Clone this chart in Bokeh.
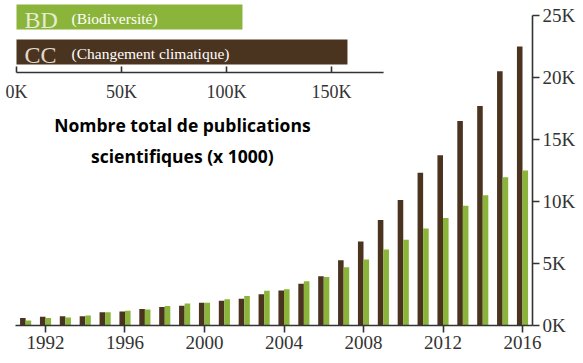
from bokeh.plotting import figure
from bokeh.models import Range1d, FixedTicker, ColumnDataSource
from bokeh.transform import dodge
from bokeh.core.properties import value
from bokeh.embed import file_html
from bokeh.resources import INLINE

# ---------------- data ----------------
years = list(range(1991, 2017))
cc_pubs = [600, 700, 750, 750, 1070, 1130, 1340, 1500, 1600, 1830, 2000, 2150, 2530, 2830,
           3360, 3980, 5270, 6770, 8500, 10130, 12310, 13740, 16500, 17700, 20500, 22500]
bd_pubs = [400, 600, 650, 800, 1070, 1180, 1290, 1580, 1770, 1830, 2120, 2370, 2800, 2930,
           3570, 3920, 4700, 5320, 6130, 6910, 7820, 8660, 9650, 10500, 11960, 12500]
year_ticks = [1992, 1996, 2000, 2004, 2008, 2012, 2016]
y_ticks = [0, 5000, 10000, 15000, 20000, 25000]
y_tick_labels = ["0K", "5K", "10K", "15K", "20K", "25K"]

totals_codes = ["BD", "CC"]
totals_names = ["(Biodiversité)", "(Changement climatique)"]
totals_values = [107600, 157600]
totals_rows = [1, 0]
total_ticks = [0, 50000, 100000, 150000]
total_tick_labels = ["0K", "50K", "100K", "150K"]

title_lines = ["Nombre total de publications", "scientifiques (x 1000)"]

# ---------------- style ----------------
GREEN = "#8bb43a"
BROWN = "#4a3420"
AXIS = "#333333"
SERIF = "Liberation Serif"

p = figure(width=583, height=363, output_backend="svg", toolbar_location=None,
           x_range=Range1d(1989.736, 2016.503), y_range=Range1d(0, 26210),
           y_axis_location="right", min_border_left=0, min_border_top=0,
           min_border_right=51, min_border_bottom=38)
p.outline_line_color = None
p.grid.visible = False
p.background_fill_color = "white"
p.border_fill_color = "white"

src = ColumnDataSource(dict(year=years, cc=cc_pubs, bd=bd_pubs))
p.vbar(x=dodge("year", -0.14, range=p.x_range), top="cc", width=0.28, source=src,
       fill_color=BROWN, line_color=None)
p.vbar(x=dodge("year", 0.14, range=p.x_range), top="bd", width=0.28, source=src,
       fill_color=GREEN, line_color=None)

# main axes
xa = p.xaxis[0]
xa.ticker = FixedTicker(ticks=year_ticks)
xa.bounds = (1990.49, 2016.5)
ya = p.yaxis[0]
ya.ticker = FixedTicker(ticks=y_ticks)
ya.major_label_overrides = {t: l for t, l in zip(y_ticks, y_tick_labels)}
ya.bounds = (0, 25000)
for ax in (xa, ya):
    ax.axis_line_color = AXIS
    ax.axis_line_width = 1.6
    ax.major_tick_line_color = AXIS
    ax.major_tick_line_width = 1.6
    ax.major_tick_in = 0
    ax.major_tick_out = 7
    ax.minor_tick_line_color = None
    ax.major_label_text_font = SERIF
    ax.major_label_text_font_size = "19px"
    ax.major_label_text_color = AXIS
xa.major_label_standoff = 3
ya.major_label_standoff = 3

# ---------------- inset: totals ----------------
p.extra_x_ranges = {"inset": Range1d(-7619, 245714)}
p.extra_y_ranges = {"inset": Range1d(-7.815, 1.471)}

isrc = ColumnDataSource(dict(row=totals_rows, val=totals_values, code=totals_codes,
                             name=totals_names, color=[GREEN, BROWN],
                             tcolor=["#e4ecd2", "#e0d8cc"]))
p.hbar(y="row", left=0, right="val", height=0.714, fill_color="color", line_color=None,
       source=isrc, x_range_name="inset", y_range_name="inset")
p.text(x=0, y="row", text="code", x_offset=8, y_offset=3, text_baseline="alphabetic",
       text_font=value(SERIF), text_font_size="24px", text_color="tcolor",
       source=isrc, x_range_name="inset", y_range_name="inset")
p.text(x=0, y="row", text="name", x_offset=55, y_offset=2, text_baseline="alphabetic",
       text_font=value(SERIF), text_font_size="15.5px", text_color="white",
       source=isrc, x_range_name="inset", y_range_name="inset")

axis_row = -0.586
p.segment(x0=[0], x1=[174800], y0=[axis_row], y1=[axis_row], line_color=AXIS,
          line_width=1.6, x_range_name="inset", y_range_name="inset")
p.segment(x0=total_ticks, x1=total_ticks, y0=[axis_row] * len(total_ticks),
          y1=[axis_row + 0.17] * len(total_ticks), line_color=AXIS, line_width=1.6,
          x_range_name="inset", y_range_name="inset")
p.text(x=total_ticks, y=[axis_row] * len(total_ticks), text=total_tick_labels,
       y_offset=10, text_align="center", text_baseline="top",
       text_font=value(SERIF), text_font_size="18px", text_color=AXIS,
       x_range_name="inset", y_range_name="inset")

# title
p.text(x=[79000, 79000], y=[-2.1, -2.986], text=title_lines, text_align="center",
       text_baseline="alphabetic", text_font=value("Open Sans"), text_font_size="17.5px",
       text_font_style="bold", text_color="black",
       x_range_name="inset", y_range_name="inset")

open("out.html", "w").write(file_html(p, INLINE))
